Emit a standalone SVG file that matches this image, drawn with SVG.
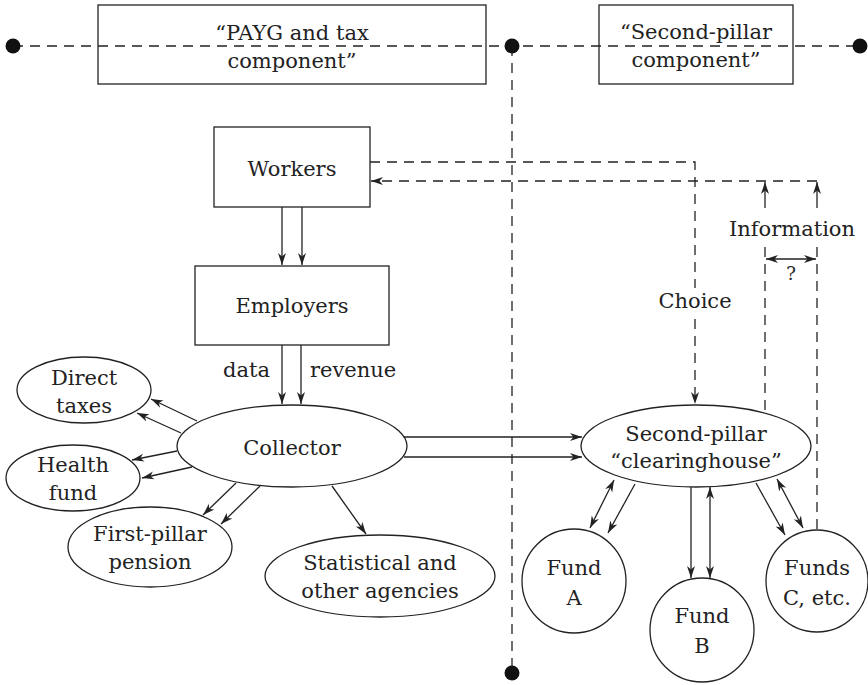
<svg xmlns="http://www.w3.org/2000/svg" width="868" height="685" viewBox="0 0 868 685">
<style>
text{font-family:"DejaVu Serif","Liberation Serif",serif;font-size:21px;fill:#222;text-anchor:middle}
.shape{fill:none;stroke:#222;stroke-width:1.3}
.ln{fill:none;stroke:#222;stroke-width:1.3}
.dash{fill:none;stroke:#222;stroke-width:1.3;stroke-dasharray:10 7}
.arr{marker-end:url(#ah)}
.dbl{marker-start:url(#ah);marker-end:url(#ah)}
.dot{fill:#111}
</style>
<defs>
<marker id="ah" markerUnits="userSpaceOnUse" markerWidth="14" markerHeight="10" refX="12" refY="4" orient="auto-start-reverse" viewBox="0 0 14 8">
<path d="M0,0 L12,4 L0,8 L3.5,4 z" fill="#222"/>
</marker>
</defs>
<rect width="868" height="685" fill="#fff"/>

<g id="component-boxes">
<g id="payg-box"><rect class="shape" x="98" y="5" width="388" height="79"/></g>
<g id="second-box"><rect class="shape" x="599" y="5" width="194" height="79"/></g>
</g>

<g id="connectors">
<path class="dash" d="M13,46 H860"/>
<path class="dash" d="M512,46 V673"/>
<path class="dash" d="M370,162 H695 V288"/>
<path class="dash arr" d="M695,319 V404"/>
<path class="dash arr" d="M817,181 H371"/>
<path class="ln arr" d="M765,208 V182"/>
<path class="ln arr" d="M817,208 V182"/>
<path class="dash" d="M765,247 V413"/>
<path class="dash" d="M817,247 V529"/>
<path class="ln dbl" d="M766,259 H816"/>
<path class="ln arr" d="M282,207 V265"/>
<path class="ln arr" d="M302,207 V265"/>
<path class="ln arr" d="M282,345 V404"/>
<path class="ln arr" d="M301,345 V404"/>
<path class="ln arr" d="M197,421 L151,399"/>
<path class="ln arr" d="M181,433 L137,413"/>
<path class="ln arr" d="M177,451 L132,460"/>
<path class="ln arr" d="M192,467 L142,478"/>
<path class="ln arr" d="M236,483 L203,515"/>
<path class="ln arr" d="M260,486 L221,524"/>
<path class="ln arr" d="M332,486 L366,534"/>
<path class="ln arr" d="M404,437 H582"/>
<path class="ln arr" d="M404,457 H582"/>
<path class="ln dbl" d="M614,480 L590,528"/>
<path class="ln arr" d="M635,484 L608,533"/>
<path class="ln arr" d="M691,487 V578"/>
<path class="ln dbl" d="M710,487 V578"/>
<path class="ln arr" d="M756,483 L785,535"/>
<path class="ln dbl" d="M777,479 L803,528"/>
<circle class="dot" cx="13" cy="46" r="7.5"/>
<circle class="dot" cx="512" cy="46" r="7.5"/>
<circle class="dot" cx="860" cy="46" r="7.5"/>
<circle class="dot" cx="512" cy="673" r="7.5"/>
</g>

<g id="labels">
<text x="292" y="40">“PAYG and tax</text>
<text x="292" y="68">component”</text>
<text x="696" y="39">“Second-pillar</text>
<text x="696" y="67">component”</text>
<text x="695" y="308">Choice</text>
<text x="792" y="236">Information</text>
<text x="791" y="280" style="font-size:18px">?</text>
<text x="270" y="377" style="text-anchor:end">data</text>
<text x="310" y="377" style="text-anchor:start">revenue</text>
</g>

<g id="workers"><rect class="shape" x="214" y="127" width="156" height="80"/><text x="292" y="176">Workers</text></g>
<g id="employers"><rect class="shape" x="195" y="266" width="194" height="79"/><text x="292" y="313">Employers</text></g>
<g id="collector"><ellipse class="shape" cx="292" cy="446" rx="115" ry="41"/><text x="292" y="455">Collector</text></g>
<g id="direct-taxes"><ellipse class="shape" cx="84" cy="390" rx="67" ry="33"/><text x="84" y="385">Direct</text><text x="84" y="413">taxes</text></g>
<g id="health-fund"><ellipse class="shape" cx="73" cy="478" rx="67" ry="33"/><text x="73" y="472">Health</text><text x="73" y="500">fund</text></g>
<g id="first-pillar"><ellipse class="shape" cx="150" cy="547" rx="82" ry="40"/><text x="150" y="541">First-pillar</text><text x="150" y="569">pension</text></g>
<g id="statistical"><ellipse class="shape" cx="380" cy="576" rx="115" ry="41"/><text x="380" y="570">Statistical and</text><text x="380" y="598">other agencies</text></g>
<g id="clearinghouse"><ellipse class="shape" cx="696" cy="446" rx="115" ry="41"/><text x="696" y="441">Second-pillar</text><text x="696" y="468">“clearinghouse”</text></g>
<g id="fund-a"><circle class="shape" cx="574" cy="581" r="52"/><text x="574" y="575">Fund</text><text x="574" y="605">A</text></g>
<g id="fund-b"><circle class="shape" cx="702" cy="630" r="52"/><text x="702" y="623">Fund</text><text x="702" y="653">B</text></g>
<g id="funds-c"><circle class="shape" cx="817" cy="581" r="51"/><text x="817" y="575">Funds</text><text x="817" y="605">C, etc.</text></g>
</svg>
